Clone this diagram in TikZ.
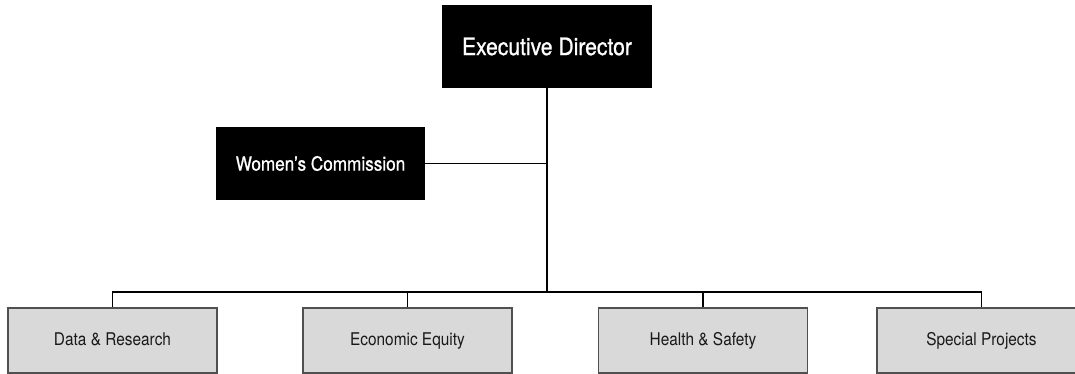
\documentclass[tikz,border=0pt]{standalone}
\usepackage{fontspec}
\setmainfont{TeX Gyre Heros}[FakeStretch=0.88]
\newfontfamily\headfont{TeX Gyre Heros}[FakeStretch=0.88, FakeBold=0.9]
\usepackage{tikz}
\usetikzlibrary{calc}
\definecolor{unitgray}{HTML}{D9D9D9}
\definecolor{edgegray}{HTML}{505050}

\begin{document}
\begin{tikzpicture}[x=1pt, y=-1pt,
	headbox/.style={fill=black, text=white, inner sep=0pt},
	unitbox/.style={draw=edgegray, line width=1.1pt, fill=unitgray, text=black!90,
		minimum width=209pt, minimum height=65pt, inner sep=0pt,
		text height=12.6pt, text depth=3.6pt,
		font=\fontsize{17.5}{20}\selectfont},
	link/.style={line width=1.1pt, color=black}]
		%%%%% START %%%%%
		
		\useasboundingbox (0, 0) rectangle (1075, 374);
		
		\node[headbox, minimum width=210pt, minimum height=83pt,
			font=\headfont\fontsize{24}{28}\selectfont] (exec) at (547, 46.5) {Executive Director};
		\node[headbox, minimum width=209pt, minimum height=73pt,
			font=\headfont\fontsize{19.5}{23}\selectfont] (women) at (320.5, 163.5) {Women’s Commission};
		
		\node[unitbox] (data) at (112.5, 340.5) {Data \& Research};
		\node[unitbox] (econ) at (407.5, 340.5) {Economic Equity};
		\node[unitbox] (health) at (703, 340.5) {Health \& Safety};
		\node[unitbox] (special) at (981.5, 340.5) {Special Projects};
		
		\coordinate (bus) at (547, 292);
		
		\draw[link, line width=1.8pt] (exec.south) -- (bus);
		\draw[link] (women.east) -- (women.east -| exec.south);
		
		\draw[link] (data.north) |- (bus) -| (special.north);
		\draw[link] (econ.north) -- (econ.north |- bus);
		\draw[link] (health.north) -- (health.north |- bus);
		
		%%%%% END %%%%%
	\end{tikzpicture}
\end{document}
